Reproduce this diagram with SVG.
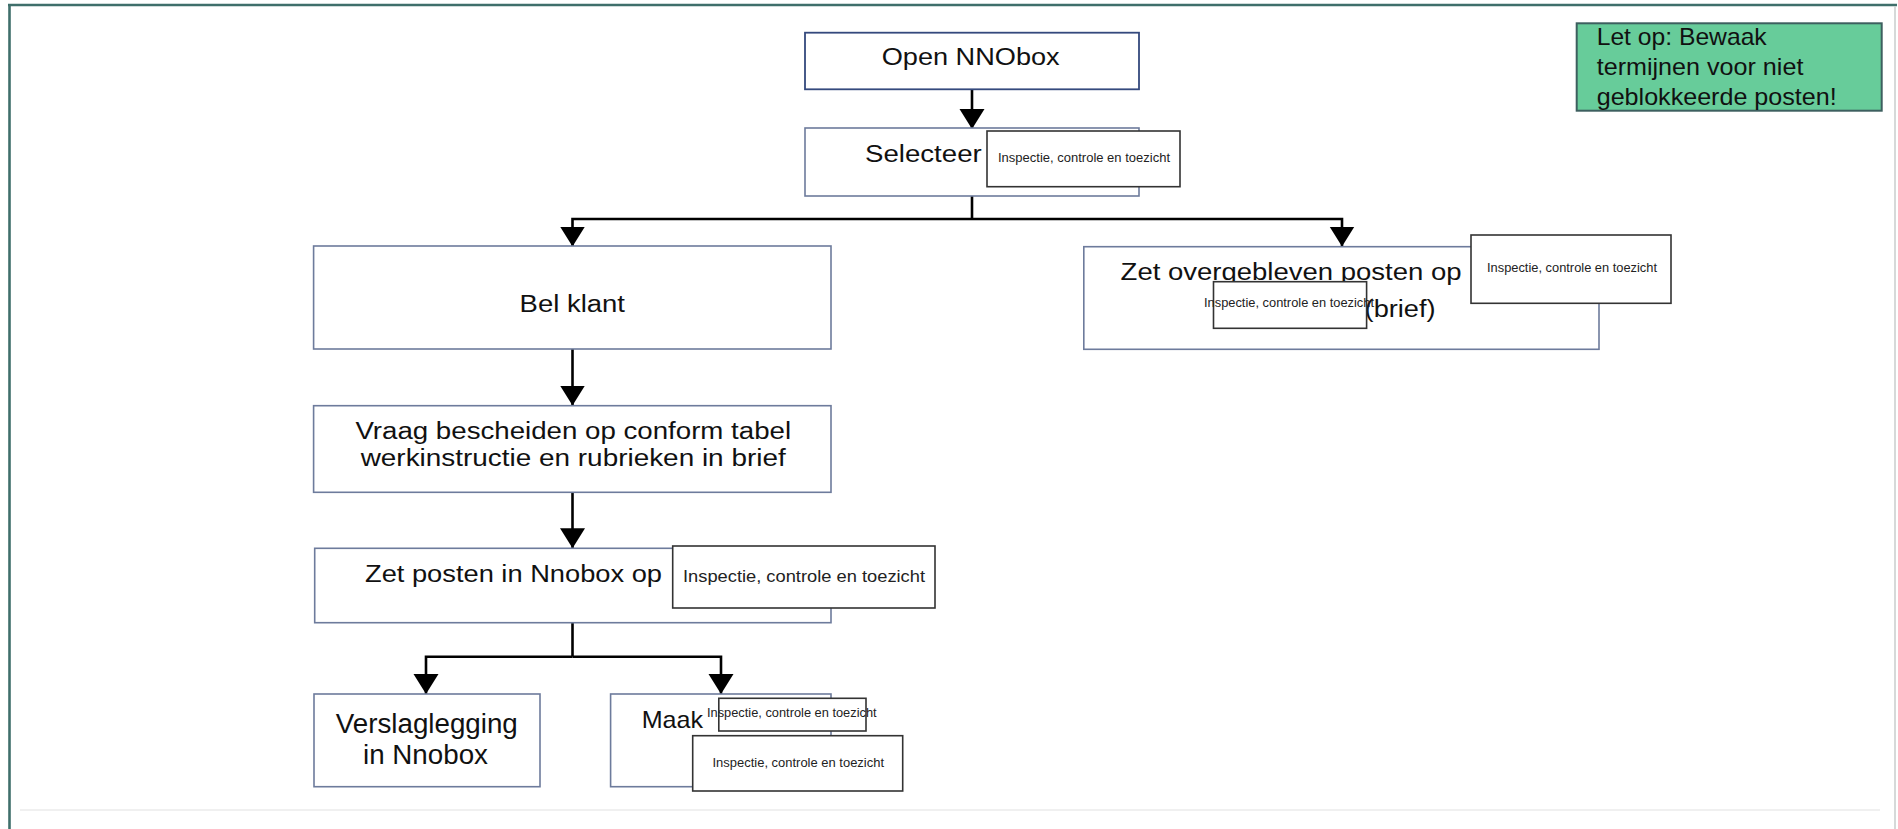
<svg xmlns="http://www.w3.org/2000/svg" width="1898" height="829" viewBox="0 0 1898 829">
<style>
.box{fill:#ffffff;stroke:#6d7b9c;stroke-width:1.6}
.box1{fill:#ffffff;stroke:#34497d;stroke-width:1.8}
.ov{fill:#ffffff;stroke:#333333;stroke-width:1.6}
.t{font-family:"Liberation Sans",Arial,sans-serif;font-size:23px;fill:#111111}
.tl{font-family:"Liberation Sans",Arial,sans-serif;font-size:27px;fill:#111111}
.s{font-family:"Liberation Sans",Arial,sans-serif;font-size:12px;fill:#222222}
.s2{font-family:"Liberation Sans",Arial,sans-serif;font-size:17px;fill:#222222}
.n{font-family:"Liberation Sans",Arial,sans-serif;font-size:24px;fill:#111111}
.c{fill:none;stroke:#000000;stroke-width:2.6}
</style>
<defs>
<marker id="ah" markerUnits="userSpaceOnUse" markerWidth="21" markerHeight="26" refX="20" refY="13" orient="auto">
<path d="M0,0.5 L20,13 L0,25.5 z" fill="#000000"/>
</marker>
</defs>
<rect x="0" y="0" width="1898" height="829" fill="#ffffff"/>
<g id="frame">
<line x1="8" y1="5" x2="1897" y2="5" stroke="#3f6f6b" stroke-width="2.6"/>
<line x1="9.5" y1="4" x2="9.5" y2="829" stroke="#3f6f6b" stroke-width="2.6"/>
<line x1="1895" y1="6" x2="1895" y2="829" stroke="#c8cccc" stroke-width="1.5"/>
<line x1="20" y1="810" x2="1880" y2="810" stroke="#f0f0f0" stroke-width="2"/>
</g>
<g id="connectors">
<path class="c" d="M972,89.3 V129" marker-end="url(#ah)"/>
<path class="c" d="M972,196 V219"/>
<path class="c" d="M972,219 H572.5 V246.5" marker-end="url(#ah)"/>
<path class="c" d="M972,219 H1342 V246.5" marker-end="url(#ah)"/>
<path class="c" d="M572.5,349 V405.5" marker-end="url(#ah)"/>
<path class="c" d="M572.5,492.3 V548.3" marker-end="url(#ah)"/>
<path class="c" d="M572.5,622.7 V656.7"/>
<path class="c" d="M572.5,656.7 H426 V694" marker-end="url(#ah)"/>
<path class="c" d="M572.5,656.7 H721 V694" marker-end="url(#ah)"/>
</g>
<g id="open-nnobox">
<rect class="box1" x="805" y="32.7" width="334" height="56.6"/>
<text class="t" x="881.7" y="65" textLength="178" lengthAdjust="spacingAndGlyphs">Open NNObox</text>
</g>
<g id="selecteer">
<rect class="box" x="805" y="128" width="334" height="68"/>
<text class="t" x="865" y="161.7" textLength="116.7" lengthAdjust="spacingAndGlyphs">Selecteer</text>
<rect class="ov" x="987" y="131" width="193" height="55.7"/>
<text class="s" x="998" y="161.7" textLength="172" lengthAdjust="spacingAndGlyphs">Inspectie, controle en toezicht</text>
</g>
<g id="bel-klant">
<rect class="box" x="313.6" y="246" width="517.4" height="103"/>
<text class="t" x="519.6" y="311.7" textLength="105.4" lengthAdjust="spacingAndGlyphs">Bel klant</text>
</g>
<g id="zet-overgebleven">
<rect class="box" x="1083.8" y="246.7" width="515.2" height="102.6"/>
<text class="t" x="1120.6" y="280" textLength="341" lengthAdjust="spacingAndGlyphs">Zet overgebleven posten op</text>
<text class="t" x="1364.6" y="316.7" textLength="71" lengthAdjust="spacingAndGlyphs">(brief)</text>
<rect class="ov" x="1213.5" y="281.7" width="153.1" height="46.6"/>
<text class="s" x="1204" y="307.3" textLength="170" lengthAdjust="spacingAndGlyphs">Inspectie, controle en toezicht</text>
<rect class="ov" x="1471" y="235" width="200" height="68.3"/>
<text class="s" x="1487" y="271.7" textLength="170" lengthAdjust="spacingAndGlyphs">Inspectie, controle en toezicht</text>
</g>
<g id="vraag-bescheiden">
<rect class="box" x="313.6" y="405.7" width="517.4" height="86.6"/>
<text class="t" x="355.4" y="439" textLength="435.7" lengthAdjust="spacingAndGlyphs">Vraag bescheiden op conform tabel</text>
<text class="t" x="360.7" y="465.5" textLength="425" lengthAdjust="spacingAndGlyphs">werkinstructie en rubrieken in brief</text>
</g>
<g id="zet-posten">
<rect class="box" x="314.7" y="548.3" width="516.3" height="74.4"/>
<text class="t" x="365" y="581.7" textLength="297" lengthAdjust="spacingAndGlyphs">Zet posten in Nnobox op</text>
<rect class="ov" x="672.7" y="546" width="262.3" height="62"/>
<text class="s2" x="683" y="581.7" textLength="242" lengthAdjust="spacingAndGlyphs">Inspectie, controle en toezicht</text>
</g>
<g id="verslaglegging">
<rect class="box" x="314" y="694" width="226" height="92.7"/>
<text class="tl" x="335.8" y="733" textLength="182" lengthAdjust="spacingAndGlyphs">Verslaglegging</text>
<text class="tl" x="363" y="764" textLength="125" lengthAdjust="spacingAndGlyphs">in Nnobox</text>
</g>
<g id="maak">
<rect class="box" x="610.6" y="694" width="220.4" height="92.7"/>
<text class="t" x="641.7" y="727.5" textLength="61.4" lengthAdjust="spacingAndGlyphs" style="font-size:24px">Maak</text>
<rect class="ov" x="718.8" y="698.3" width="147.2" height="32.7"/>
<text class="s" x="707" y="716.7" textLength="169.6" lengthAdjust="spacingAndGlyphs">Inspectie, controle en toezicht</text>
<rect class="ov" x="692.7" y="735.7" width="210" height="55.3"/>
<text class="s" x="712.5" y="766.7" textLength="171.5" lengthAdjust="spacingAndGlyphs">Inspectie, controle en toezicht</text>
</g>
<g id="note">
<rect x="1576.7" y="23.3" width="305" height="87.4" fill="#67cc9a" stroke="#3d5f5f" stroke-width="2"/>
<text class="n" x="1596.7" y="45" textLength="170" lengthAdjust="spacingAndGlyphs">Let op: Bewaak</text>
<text class="n" x="1596.7" y="75" textLength="206.7" lengthAdjust="spacingAndGlyphs">termijnen voor niet</text>
<text class="n" x="1596.7" y="105" textLength="240" lengthAdjust="spacingAndGlyphs">geblokkeerde posten!</text>
</g>
</svg>
